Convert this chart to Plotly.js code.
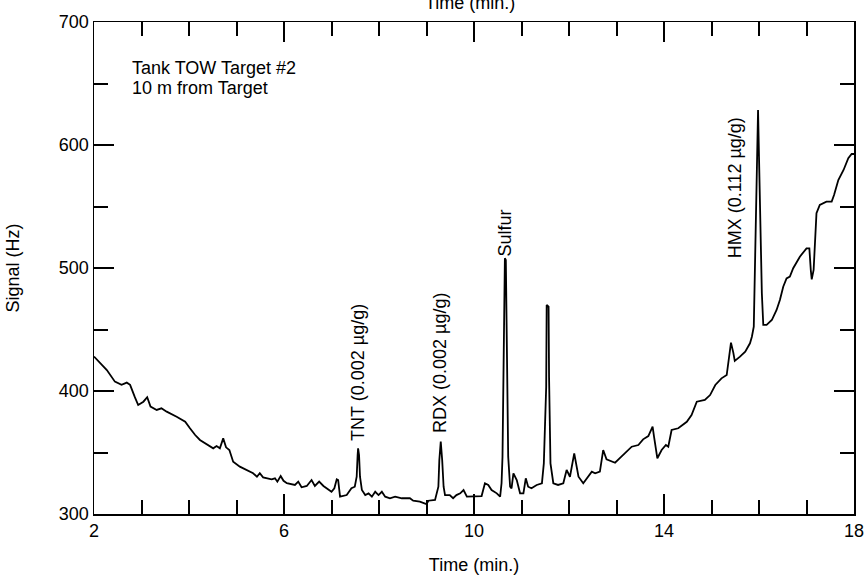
<!DOCTYPE html>
<html>
<head>
<meta charset="utf-8">
<script src="https://cdn.plot.ly/plotly-3.0.1.min.js"></script>
<style>html,body{margin:0;padding:0;background:#fff;}#chart{width:865px;height:580px;}</style>
</head>
<body>
<div id="chart"></div>
<script>
// Time (min.)
const time = [2.0, 2.27, 2.44, 2.58, 2.69, 2.76, 2.86, 2.93, 3.04, 3.12, 3.19, 3.32, 3.42, 3.53, 3.74, 3.92, 4.02, 4.13, 4.23, 4.41, 4.51, 4.58, 4.65, 4.72, 4.78, 4.85, 4.93, 5.07, 5.21, 5.35, 5.43, 5.49, 5.56, 5.74, 5.81, 5.86, 5.93, 5.99, 6.06, 6.23, 6.30, 6.37, 6.48, 6.58, 6.65, 6.74, 6.83, 6.90, 7.00, 7.06, 7.11, 7.14, 7.18, 7.32, 7.42, 7.49, 7.53, 7.55, 7.56, 7.58, 7.60, 7.64, 7.71, 7.78, 7.85, 7.92, 7.99, 8.06, 8.13, 8.23, 8.34, 8.48, 8.65, 8.72, 8.86, 9.00, 9.04, 9.18, 9.21, 9.25, 9.27, 9.30, 9.33, 9.36, 9.39, 9.49, 9.56, 9.63, 9.71, 9.78, 9.85, 9.95, 10.02, 10.16, 10.23, 10.30, 10.37, 10.48, 10.55, 10.58, 10.60, 10.62, 10.65, 10.67, 10.69, 10.72, 10.76, 10.79, 10.83, 10.90, 10.97, 11.04, 11.09, 11.14, 11.21, 11.32, 11.43, 11.47, 11.52, 11.53, 11.57, 11.58, 11.61, 11.67, 11.77, 11.88, 11.95, 12.02, 12.11, 12.15, 12.20, 12.30, 12.37, 12.48, 12.55, 12.65, 12.72, 12.79, 12.97, 13.14, 13.32, 13.46, 13.56, 13.67, 13.76, 13.79, 13.86, 13.95, 14.04, 14.09, 14.16, 14.30, 14.48, 14.58, 14.69, 14.86, 14.97, 15.08, 15.21, 15.32, 15.36, 15.41, 15.46, 15.49, 15.60, 15.71, 15.81, 15.85, 15.89, 15.92, 15.95, 15.98, 16.00, 16.02, 16.06, 16.09, 16.16, 16.27, 16.37, 16.44, 16.51, 16.58, 16.65, 16.72, 16.86, 17.00, 17.06, 17.09, 17.11, 17.15, 17.18, 17.21, 17.28, 17.42, 17.53, 17.58, 17.67, 17.78, 17.88, 17.95, 18.0];
// Signal (Hz)
const signal = [428, 417, 407.6, 405, 406.8, 405, 395, 388.6, 391.3, 394.9, 387.3, 384.6, 385.9, 383.2, 379.1, 375, 369.7, 364.2, 360.2, 356.1, 353.4, 355.3, 353.4, 361.5, 354.2, 352, 342.5, 338.5, 335.8, 333.1, 330.3, 333.1, 329.8, 328.2, 329, 326.3, 330.9, 327, 325, 323.6, 326.3, 321.7, 322.8, 327.6, 322.8, 326.3, 322.8, 320.9, 318.1, 320.9, 328.2, 327.6, 314.1, 315.4, 320.9, 322.2, 330.3, 348, 353.4, 348, 330.3, 319.5, 315.4, 316.8, 314.1, 318.1, 315.4, 318.1, 314.1, 312.8, 314.1, 312.8, 312.8, 310.8, 310, 308.1, 310.8, 311.4, 316.8, 322.2, 343.9, 358.8, 343.9, 322.2, 315.4, 315.4, 312.8, 315.4, 316.8, 319.5, 314.1, 314.1, 314.6, 314.6, 325, 323.6, 319.5, 316.8, 314.1, 325, 346.6, 427.9, 507.9, 506.5, 436, 346.6, 322.2, 320.9, 333.1, 327.6, 316.8, 316.8, 329, 322.2, 320.9, 323.6, 325, 341.2, 403.5, 469.9, 468.5, 411.6, 341.2, 325, 323.6, 325, 335.8, 330.3, 349.3, 341.2, 330.3, 325, 329, 334.4, 333.1, 334.5, 352, 344.5, 341.7, 348, 354.7, 356.1, 360.7, 363.4, 371, 362.9, 345.3, 352, 356.1, 354.7, 368.3, 369.7, 375, 380.5, 391.3, 392.7, 396.7, 404.9, 410.3, 413, 425.2, 439.3, 431, 424.5, 427.9, 432, 438.8, 444.1, 452.3, 517.3, 585.1, 628.5, 590.5, 544.5, 479.4, 453.7, 453.7, 457.7, 465.9, 474, 484.8, 491.6, 493, 499.8, 509.2, 516, 516, 498.4, 490.8, 498.4, 522.8, 544.5, 551.3, 554, 554, 559.3, 571.5, 579.7, 589.2, 592.7, 592.7];

const xTickStart = 2, xTickStep = 4, xMinorStep = 1;
const yTickStart = 300, yTickStep = 100, yMinorStep = 50;

const peakLabels = ["TNT (0.002 µg/g)", "RDX (0.002 µg/g)", "Sulfur", "HMX (0.112 µg/g)"];
const peakLabelX = [7.56, 9.3, 10.65, 15.49];
const peakLabelY = [357.5, 364, 508, 506.5];

const noteLines = ["Tank TOW Target #2", "10 m from Target"];
const noteY = [0.9065, 0.866];

const FONT = "Liberation Sans, Arial, Helvetica, sans-serif";
const FS = 18;
const INK = 'rgb(0,0,0)';

const annotations = peakLabels.map((t, i) => ({
  x: peakLabelX[i], y: peakLabelY[i], xref: 'x', yref: 'y',
  text: t, textangle: -90, showarrow: false,
  xanchor: 'center', yanchor: 'bottom',
  font: {family: FONT, size: FS, color: INK}
}));
noteLines.forEach((t, i) => annotations.push({
  x: 0.048, y: noteY[i], xref: 'paper', yref: 'paper',
  text: t, align: 'left', showarrow: false,
  xanchor: 'left', yanchor: 'middle',
  font: {family: FONT, size: FS, color: INK}
}));
annotations.push({
  x: 0.495, y: 1.015, xref: 'paper', yref: 'paper',
  text: 'Time (min.)', showarrow: false, xanchor: 'center', yanchor: 'bottom',
  font: {family: FONT, size: FS, color: INK}
});

const axisCommon = {
  showline: true, linecolor: INK, linewidth: 1.5, mirror: 'allticks',
  ticks: 'inside', tickcolor: INK, tickwidth: 2, ticklen: 20,
  showgrid: false, zeroline: false,
  tickfont: {family: FONT, size: FS, color: INK}
};

const layout = {
  width: 865, height: 580,
  margin: {l: 94, r: 11, t: 22, b: 66},
  paper_bgcolor: '#fff', plot_bgcolor: '#fff',
  showlegend: false,
  font: {family: FONT, size: FS, color: INK},
  xaxis: Object.assign({}, axisCommon, {
    range: [2, 18], tickmode: 'linear', tick0: xTickStart, dtick: xTickStep,
    minor: {dtick: xMinorStep, tick0: xTickStart, ticks: 'inside', ticklen: 14, tickwidth: 2, tickcolor: INK},
    title: {text: 'Time (min.)', standoff: 18, font: {family: FONT, size: FS, color: INK}}
  }),
  yaxis: Object.assign({}, axisCommon, {
    range: [300, 700], tickmode: 'linear', tick0: yTickStart, dtick: yTickStep,
    minor: {dtick: yMinorStep, tick0: yTickStart, ticks: 'inside', ticklen: 14, tickwidth: 2, tickcolor: INK},
    title: {text: 'Signal (Hz)', standoff: 34, font: {family: FONT, size: FS, color: INK}}
  }),
  annotations: annotations
};

Plotly.newPlot('chart', [{
  x: time, y: signal, type: 'scatter', mode: 'lines',
  line: {color: INK, width: 1.8}
}], layout, {staticPlot: true});
</script>
</body>
</html>
